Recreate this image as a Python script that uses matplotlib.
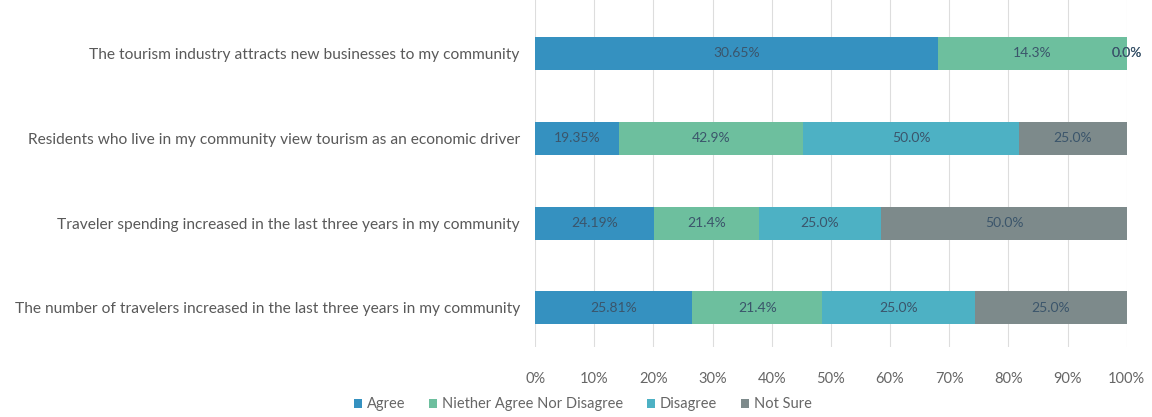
import matplotlib
matplotlib.use('Agg')
import matplotlib.pyplot as plt
import numpy as np

plt.rcParams['font.family'] = ['Lato', 'DejaVu Sans']

# ── Data ─────────────────────────────────────────────────────
statements = [
    "The tourism industry attracts new businesses to my community",
    "Residents who live in my community view tourism as an economic driver",
    "Traveler spending increased in the last three years in my community",
    "The number of travelers increased in the last three years in my community",
]
series = ["Agree", "Niether Agree Nor Disagree", "Disagree", "Not Sure"]
agree = [30.65, 19.35, 24.19, 25.81]
neither = [14.3, 42.9, 21.4, 21.4]
disagree = [0.0, 50.0, 25.0, 25.0]
not_sure = [0.0, 25.0, 50.0, 25.0]
value_fmt = ["{:.2f}%", "{:.1f}%", "{:.1f}%", "{:.1f}%"]

colors = ["#3591c0", "#6dbf9e", "#4db1c4", "#7d8a8b"]

raw = np.array([agree, neither, disagree, not_sure])
shares = raw / raw.sum(axis=0)

fig = plt.figure(figsize=(11.52, 4.17), dpi=100)
ax = fig.add_axes([0.4645, 0.168, 0.5135, 0.832])

y = np.arange(len(statements))
left = np.zeros(len(statements))
for i, name in enumerate(series):
    bars = ax.barh(y, shares[i], left=left, height=0.39, color=colors[i],
                   label=name, zorder=2)
    for j, bar in enumerate(bars):
        cx = bar.get_x() + bar.get_width() / 2
        ax.text(cx, y[j], value_fmt[i].format(raw[i, j]), ha='center',
                va='center', fontsize=10, color='#3b556b', zorder=3)
    left += shares[i]

ax.set_xlim(0, 1)
ax.set_ylim(3.46, -0.63)
ax.set_xticks(np.linspace(0, 1, 11))
ax.set_xticklabels([f"{int(v)}%" for v in np.arange(0, 101, 10)],
                   fontsize=10.5, color='#666666')
ax.set_yticks(y)
ax.set_yticklabels(statements, fontsize=11.2, color='#595959')
ax.tick_params(length=0)
ax.tick_params(axis='x', pad=18)
ax.tick_params(axis='y', pad=11)
ax.grid(axis='x', color='#dddddd', linewidth=0.8, zorder=0)
for s in ax.spines.values():
    s.set_visible(False)

handles, labels = ax.get_legend_handles_labels()
fig.legend(handles, labels, loc='center', bbox_to_anchor=(0.506, 0.03), ncol=4,
           frameon=False, fontsize=10.5, handlelength=0.55, handleheight=0.55,
           handletextpad=0.35, columnspacing=1.6, labelcolor='#666666')

plt.savefig("out.png", dpi=100)
